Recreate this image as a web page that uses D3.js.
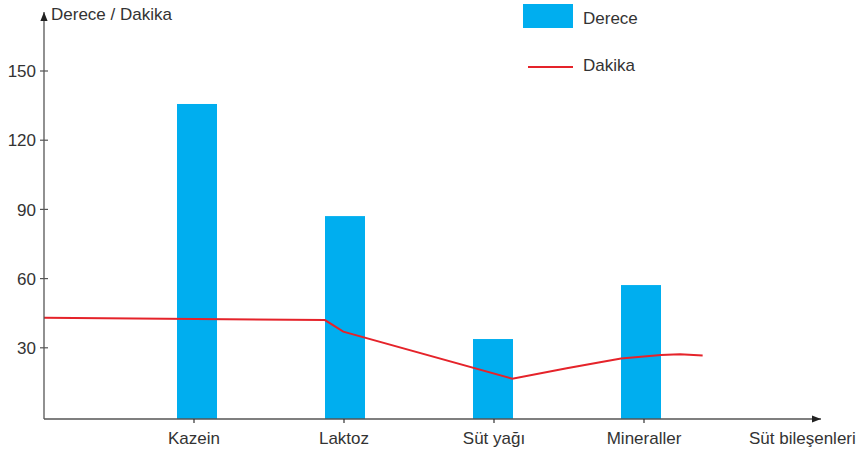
<!DOCTYPE html>
<html>
<head>
<meta charset="utf-8">
<script src="https://cdn.jsdelivr.net/npm/d3@7"></script>
<style>
body{margin:0;background:#fff;}
text{font-family:"Liberation Sans",Arial,sans-serif;fill:#333;font-size:17px;}
</style>
</head>
<body>
<svg width="858" height="451"></svg>
<script>
// chart data
var categories = ["Kazein", "Laktoz", "Süt yağı", "Mineraller"];
var derece = [135.7, 87.1, 33.8, 57.2];
// line is drawn in axis units: 0 = y axis, category i sits at i+1
var dakikaX = [0, 1.873, 1.995, 3.122, 3.485, 3.707, 3.847, 4.113, 4.24, 4.391];
var dakika = [43.0, 42.0, 37.0, 16.6, 21.1, 23.7, 25.4, 26.9, 27.2, 26.7];
var yTicks = [30, 60, 90, 120, 150];

var svg = d3.select("svg");
var axisColor = "#555";
var barColor = "#00aeef";
var lineColor = "#e5232a";
var axisX = 44, axisY = 419;

var xScale = d3.scaleLinear().domain([0, 5]).range([axisX, axisX + 750]);
// bars sit on a slightly tighter spacing than the ticks in the original
var barScale = d3.scaleLinear().domain([0, 3]).range([197, 641]);
var yScale = d3.scaleLinear().domain([0, 150]).range([417, 71]);
var barWidth = 40;

// bars
svg.selectAll("rect.bar")
.data(derece)
.enter()
.append("rect")
.attr("class", "bar")
.attr("x", function(d, i){ return barScale(i) - barWidth / 2; })
.attr("y", function(d){ return yScale(d); })
.attr("width", barWidth)
.attr("height", function(d){ return axisY - yScale(d); })
.attr("fill", barColor);

// line
var line = d3.line()
.x(function(d){ return xScale(d[0]); })
.y(function(d){ return yScale(d[1]); });

svg.append("path")
.datum(d3.zip(dakikaX, dakika))
.attr("d", line)
.attr("fill", "none")
.attr("stroke", lineColor)
.attr("stroke-width", 2);

// axes
var defs = svg.append("defs");
defs.append("marker")
.attr("id", "arrow")
.attr("viewBox", "0 0 10 10")
.attr("refX", 10).attr("refY", 5)
.attr("markerWidth", 9).attr("markerHeight", 9)
.attr("markerUnits", "userSpaceOnUse")
.attr("orient", "auto")
.append("path")
.attr("d", "M0,1 L10,5 L0,9 Z")
.attr("fill", "#222");

svg.append("line")
.attr("x1", axisX).attr("y1", axisY)
.attr("x2", axisX).attr("y2", 12)
.attr("stroke", axisColor).attr("stroke-width", 1.3)
.attr("marker-end", "url(#arrow)");

svg.append("line")
.attr("x1", axisX).attr("y1", axisY)
.attr("x2", 821).attr("y2", axisY)
.attr("stroke", axisColor).attr("stroke-width", 1.3)
.attr("marker-end", "url(#arrow)");

// y ticks
var yt = svg.selectAll("g.ytick")
.data(yTicks)
.enter()
.append("g")
.attr("class", "ytick")
.attr("transform", function(d){ return "translate(" + axisX + "," + yScale(d) + ")"; });
yt.append("line").attr("x1", -4).attr("x2", 4).attr("stroke", axisColor).attr("stroke-width", 1.2);
yt.append("text")
.attr("x", -8).attr("dy", "0.36em")
.attr("text-anchor", "end")
.text(function(d){ return d; });

// x ticks
var xt = svg.selectAll("g.xtick")
.data(categories)
.enter()
.append("g")
.attr("class", "xtick")
.attr("transform", function(d, i){ return "translate(" + xScale(i + 1) + "," + axisY + ")"; });
xt.append("line").attr("y1", 0).attr("y2", 4).attr("stroke", "#333").attr("stroke-width", 1.2);
xt.append("text")
.attr("y", 25)
.attr("text-anchor", "middle")
.text(function(d){ return d; });

// axis titles
svg.append("text").attr("x", 51).attr("y", 20).text("Derece / Dakika");
svg.append("text").attr("x", 749).attr("y", 444).text("Süt bileşenleri");

// legend
svg.append("rect").attr("x", 523).attr("y", 4).attr("width", 50).attr("height", 24).attr("fill", barColor);
svg.append("text").attr("x", 583).attr("y", 24).text("Derece");
svg.append("line").attr("x1", 528).attr("x2", 573).attr("y1", 67).attr("y2", 67)
.attr("stroke", lineColor).attr("stroke-width", 2);
svg.append("text").attr("x", 583).attr("y", 71).text("Dakika");
</script>
</body>
</html>
